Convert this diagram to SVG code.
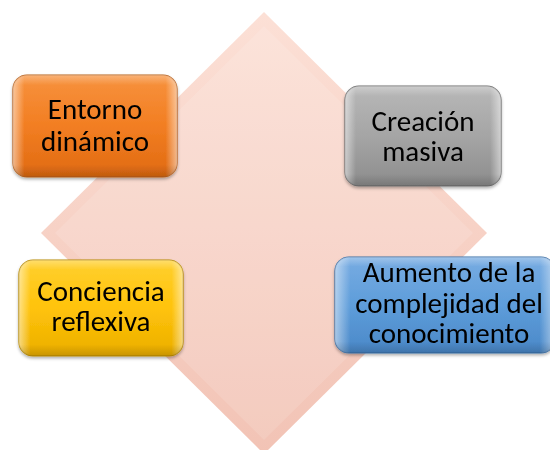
<svg xmlns="http://www.w3.org/2000/svg" width="550" height="450" viewBox="0 0 550 450">
<defs>
<linearGradient id="gDia" x1="0" y1="0" x2="0" y2="1">
<stop offset="0" stop-color="#FCE0D6"/><stop offset="1" stop-color="#F2C3B5"/>
</linearGradient>
<linearGradient id="gOr" x1="0" y1="0" x2="0" y2="1">
<stop offset="0" stop-color="#F7923E"/><stop offset="0.5" stop-color="#F27E22"/><stop offset="1" stop-color="#E06A12"/>
</linearGradient>
<linearGradient id="gGr" x1="0" y1="0" x2="0" y2="1">
<stop offset="0" stop-color="#B8B8B8"/><stop offset="0.5" stop-color="#A5A5A5"/><stop offset="1" stop-color="#8C8C8C"/>
</linearGradient>
<linearGradient id="gYe" x1="0" y1="0" x2="0" y2="1">
<stop offset="0" stop-color="#FFD030"/><stop offset="0.5" stop-color="#FFC30A"/><stop offset="1" stop-color="#EBAE00"/>
</linearGradient>
<linearGradient id="gBl" x1="0" y1="0" x2="0" y2="1">
<stop offset="0" stop-color="#78ACE2"/><stop offset="0.5" stop-color="#5E9DDA"/><stop offset="1" stop-color="#4A88C8"/>
</linearGradient>
<linearGradient id="gHi" x1="0" y1="0" x2="1" y2="0">
<stop offset="0" stop-color="#fff" stop-opacity="0.5"/><stop offset="0.07" stop-color="#fff" stop-opacity="0"/><stop offset="0.93" stop-color="#fff" stop-opacity="0"/><stop offset="1" stop-color="#fff" stop-opacity="0.5"/>
</linearGradient>
<linearGradient id="gHiV" x1="0" y1="0" x2="0" y2="1">
<stop offset="0" stop-color="#fff" stop-opacity="0.3"/><stop offset="0.1" stop-color="#fff" stop-opacity="0"/><stop offset="0.88" stop-color="#000" stop-opacity="0"/><stop offset="1" stop-color="#000" stop-opacity="0.15"/>
</linearGradient>
<filter id="sh" x="-10%" y="-10%" width="120%" height="130%">
<feDropShadow dx="0" dy="2" stdDeviation="1.5" flood-color="#000" flood-opacity="0.3"/>
</filter>
</defs>
<style>
.box{stroke-width:1.2}
.hi{fill:url(#gHi)}
.hv{fill:url(#gHiV)}
text{font-family:"Carlito","Lato","Liberation Sans",sans-serif;font-size:29px;fill:#000;text-anchor:middle}
</style>
<g id="diamond">
<polygon points="264,12 487,233 264,454 41,233" fill="url(#gDia)"/>
<polygon points="264,26 473,233 264,440 55,233" fill="#fff" fill-opacity="0.12"/>
</g>
<g id="connectors"></g>
<g id="n-entorno" filter="url(#sh)">
<rect class="box" x="13" y="75" width="164" height="102" rx="14" fill="url(#gOr)" stroke="#B8601C"/>
<rect class="hi" x="13" y="75" width="164" height="102" rx="14"/>
<rect class="hv" x="13" y="75" width="164" height="102" rx="14"/>
<text x="95" y="119">Entorno</text>
<text x="95" y="151">dinámico</text>
</g>
<g id="n-creacion" filter="url(#sh)">
<rect class="box" x="345" y="86" width="156" height="100" rx="14" fill="url(#gGr)" stroke="#6E6E6E"/>
<rect class="hi" x="345" y="86" width="156" height="100" rx="14"/>
<rect class="hv" x="345" y="86" width="156" height="100" rx="14"/>
<text x="423" y="131">Creación</text>
<text x="423" y="161">masiva</text>
</g>
<g id="n-conciencia" filter="url(#sh)">
<rect class="box" x="19" y="260" width="164" height="96" rx="14" fill="url(#gYe)" stroke="#B88A00"/>
<rect class="hi" x="19" y="260" width="164" height="96" rx="14"/>
<rect class="hv" x="19" y="260" width="164" height="96" rx="14"/>
<text x="101" y="301">Conciencia</text>
<text x="101" y="331">reflexiva</text>
</g>
<g id="n-aumento" filter="url(#sh)">
<rect class="box" x="335" y="257" width="220" height="96" rx="14" fill="url(#gBl)" stroke="#3A6EA5"/>
<rect class="hi" x="335" y="257" width="220" height="96" rx="14"/>
<rect class="hv" x="335" y="257" width="220" height="96" rx="14"/>
<text x="449" y="282">Aumento de la</text>
<text x="449" y="313">complejidad del</text>
<text x="449" y="343">conocimiento</text>
</g>
</svg>
